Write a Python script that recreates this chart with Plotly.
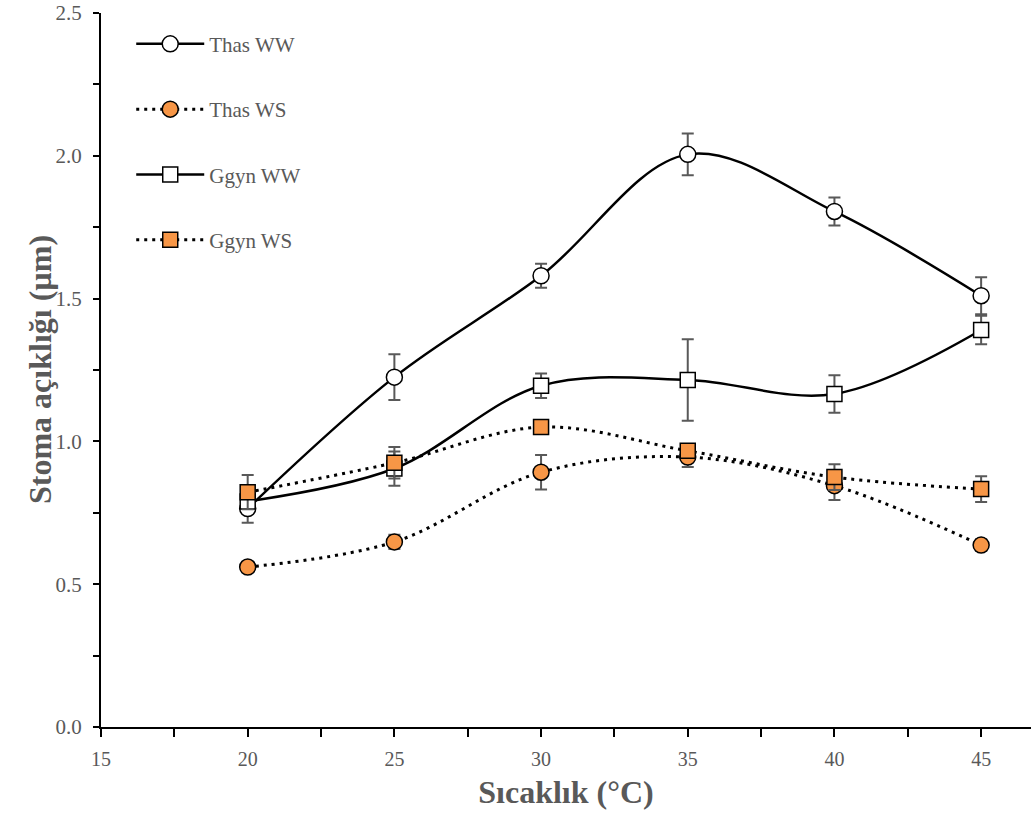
import plotly.graph_objects as go

temps = [20, 25, 30, 35, 40, 45]

thas_ww = [0.765, 1.225, 1.58, 2.005, 1.805, 1.51]
thas_ww_err = [0.05, 0.08, 0.042, 0.073, 0.049, 0.065]

thas_ws = [0.56, 0.648, 0.892, 0.945, 0.845, 0.637]
thas_ws_err = [0.0, 0.025, 0.06, 0.035, 0.05, 0.02]

ggyn_ww = [0.79, 0.905, 1.195, 1.215, 1.166, 1.39]
ggyn_ww_err = [0.0, 0.06, 0.043, 0.143, 0.066, 0.05]

ggyn_ws = [0.822, 0.925, 1.05, 0.967, 0.875, 0.833]
ggyn_ws_err = [0.06, 0.055, 0.02, 0.02, 0.045, 0.045]

GRAY = "#595959"
ORANGE = "#F79646"
FONT = "Liberation Serif"

series = [
    ("Thas WW", thas_ww, thas_ww_err, "circle", "white", "solid"),
    ("Thas WS", thas_ws, thas_ws_err, "circle", ORANGE, "3px,5px"),
    ("Ggyn WW", ggyn_ww, ggyn_ww_err, "square", "white", "solid"),
    ("Ggyn WS", ggyn_ws, ggyn_ws_err, "square", ORANGE, "3px,5px"),
]

fig = go.Figure()
for i, (name, ys, errs, sym, fill, dash) in enumerate(series):
    fig.add_trace(go.Scatter(
        x=temps, y=ys, name=name, mode="lines+markers",
        legendgroup=f"g{i}",
        line=dict(color="black", width=2.5 if dash == "solid" else 3, dash=dash, shape="spline", smoothing=1),
        marker=dict(symbol=sym, size=16 if sym == "circle" else 15, color=fill,
                    line=dict(color="black", width=1.5)),
        error_y=dict(type="data", array=errs, visible=True, color=GRAY, thickness=2, width=6),
    ))

fig.update_layout(
    width=1031, height=816,
    margin=dict(l=101, r=0, t=13, b=89),
    paper_bgcolor="white", plot_bgcolor="white",
    font=dict(family=FONT, color=GRAY, size=18),
    showlegend=True,
    legend=dict(x=0.0325, y=0.985, xanchor="left", yanchor="top",
                font=dict(family=FONT, size=21, color=GRAY),
                traceorder="grouped", tracegroupgap=35, itemwidth=68,
                bgcolor="rgba(0,0,0,0)"),
    xaxis=dict(range=[15, 46.7], tickvals=[15, 20, 25, 30, 35, 40, 45],
               automargin=False,
               showline=True, linecolor="black", linewidth=2,
               ticks="outside", ticklen=8, tickwidth=2, tickcolor="black",
               minor=dict(tickvals=[17.5, 22.5, 27.5, 32.5, 37.5, 42.5], ticks="outside",
                          ticklen=8, tickwidth=2, tickcolor="black"),
               showgrid=False, zeroline=False,
               tickfont=dict(family=FONT, size=20, color=GRAY),
               ticklabelstandoff=5,
               title=dict(text="<b>Sıcaklık (°C)</b>", font=dict(family=FONT, size=32, color=GRAY), standoff=12)),
    yaxis=dict(range=[0, 2.5], tickvals=[0, 0.5, 1.0, 1.5, 2.0, 2.5], tickformat=".1f",
               automargin=False,
               showline=True, linecolor="black", linewidth=2,
               ticks="outside", ticklen=6, tickwidth=2, tickcolor="black",
               minor=dict(tickvals=[0.25, 0.75, 1.25, 1.75, 2.25], ticks="outside",
                          ticklen=6, tickwidth=2, tickcolor="black"),
               showgrid=False, zeroline=False,
               tickfont=dict(family=FONT, size=21, color=GRAY),
               ticklabelstandoff=7),
    annotations=[dict(text="<b>Stoma açıklığı (µm)</b>", textangle=-90,
                      xref="paper", yref="paper", x=0, y=0.5, xanchor="center", yanchor="middle",
                      xshift=-61, showarrow=False,
                      font=dict(family=FONT, size=32, color=GRAY))],
)

fig.write_html("out.html", config={"displayModeBar": False},
               post_script="document.body.style.margin='0';document.body.style.overflow='hidden';")
